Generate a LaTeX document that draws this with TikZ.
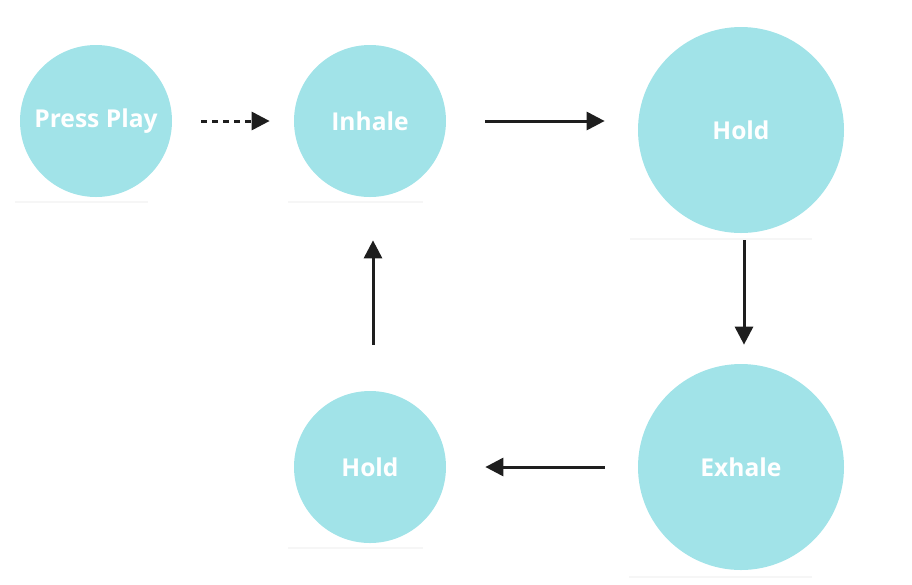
\documentclass[tikz,border=0pt]{standalone}
\usepackage{fontspec}
\setmainfont{Open Sans}
\usetikzlibrary{arrows.meta}

\definecolor{breath}{RGB}{161,227,232}
\definecolor{ink}{RGB}{30,30,30}
\definecolor{rule}{RGB}{246,246,246}

\tikzset{
	step circle/.style={circle,fill=breath,inner sep=0pt,text=white,font=\fontsize{14}{16}\selectfont\bfseries},
	small/.style={minimum size=3.04cm},
	big/.style={minimum size=4.12cm},
	flow/.style={-{Triangle[length=0.36cm,width=0.36cm]},line width=0.06cm,color=ink}
}

\begin{document}
\begin{tikzpicture}
			\useasboundingbox (0,0) rectangle (18.24,-11.68);
			% faint rules under the circles
			\draw[rule,line width=0.05cm] (0.30,-4.04) -- (2.96,-4.04);
			\draw[rule,line width=0.05cm] (5.76,-4.04) -- (8.46,-4.04);
			\draw[rule,line width=0.05cm] (12.60,-4.78) -- (16.24,-4.78);
			\draw[rule,line width=0.05cm] (12.58,-11.54) -- (16.24,-11.54);
			\draw[rule,line width=0.05cm] (5.76,-10.96) -- (8.46,-10.96);
			\draw (1.92,-2.42) node [step circle,small] (press) {Press Play};
			\draw (7.40,-2.42) node [step circle,small] (inhale) {Inhale};
			\draw (14.82,-2.60) node [step circle,big] (hold1) {Hold};
			\draw (14.82,-9.34) node [step circle,big] (exhale) {Exhale};
			\draw (7.40,-9.34) node [step circle,small] (hold2) {Hold};
			\coordinate (hold1in) at (inhale -| hold1.west);
			\coordinate (exhaleout) at (exhale.west);
			\path[flow]
				(press) edge [dash pattern=on 0.12cm off 0.1cm,shorten <=0.58cm,shorten >=0.48cm] (inhale)
				(inhale) edge [shorten <=0.78cm,shorten >=0.66cm] (hold1in)
				([xshift=0.06cm]hold1.south) edge [shorten <=0.14cm,shorten >=0.38cm] ([xshift=0.06cm]exhale.north)
				(exhaleout) edge [shorten <=0.66cm,shorten >=0.78cm] (hold2)
				([xshift=0.06cm]hold2.north) edge [shorten <=0.92cm,shorten >=0.86cm] ([xshift=0.06cm]inhale.south);
		\end{tikzpicture}
\end{document}
